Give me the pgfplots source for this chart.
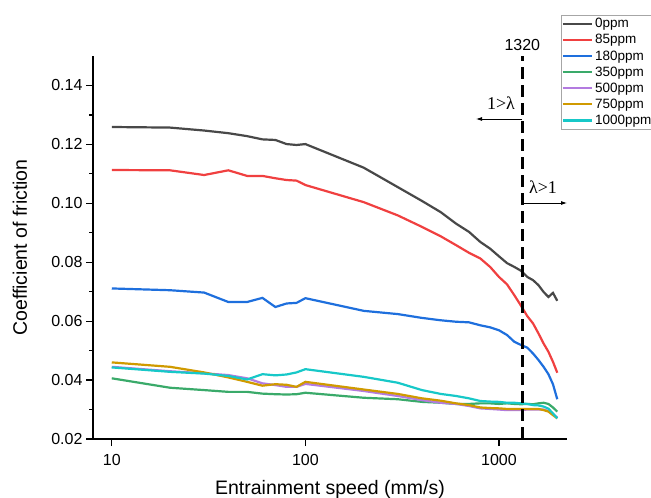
\documentclass[border=0pt]{standalone}
\usepackage{pgfplots}
\pgfplotsset{compat=1.18}
\usetikzlibrary{arrows.meta}
\usepackage{fontspec}
\setmainfont{Liberation Sans}
\newfontfamily\timesfont{Liberation Serif}
\definecolor{c0}{HTML}{484848}
\definecolor{c85}{HTML}{F04040}
\definecolor{c180}{HTML}{1E6FDD}
\definecolor{c350}{HTML}{3AAA6A}
\definecolor{c500}{HTML}{B37BE0}
\definecolor{c750}{HTML}{D09A00}
\definecolor{c1000}{HTML}{17C8C8}
\begin{document}
\begin{tikzpicture}
\begin{axis}[
  at={(0,0)}, anchor=south west,
  scale only axis, width=474bp, height=383bp,
  xmode=log, log basis x=10,
  xmin=8, xmax=2245, ymin=0.02, ymax=0.15,
  xtick={10,100,1000}, xticklabels={10,100,1000},
  ytick={0.02,0.04,0.06,0.08,0.10,0.12,0.14},
  minor y tick num=1,
  axis lines*=left,
  axis line style={line width=1.6bp,-},
  tick style={line width=1.3bp,black},
  tick align=outside,
  major tick length=7bp, minor tick length=4bp,
  yticklabel style={/pgf/number format/.cd, fixed, fixed zerofill, precision=2, assume math mode=true},
  ticklabel style={font=\fontsize{16bp}{18bp}\selectfont},
  xticklabel style={/pgf/number format/assume math mode=true, yshift=-5bp},
  log ticks with fixed point,
  xlabel={Entrainment speed (mm/s)},
  ylabel={Coefficient of friction},
  label style={font=\fontsize{19.5bp}{22bp}\selectfont},
  xlabel style={at={(axis description cs:0.5,-0.1305)}, anchor=center},
  ylabel style={at={(axis description cs:-0.154,0.5)}, anchor=center},
  clip=false,
  legend cell align=left,
  legend style={at={(axis description cs:0.9873,1.1070)}, anchor=north west, draw=gray!70, line width=0.8bp,
    font=\fontsize{13.5bp}{15bp}\selectfont, inner xsep=0.5bp, inner ysep=1bp, row sep=1.2bp},
  legend image code/.code={\draw[#1,line width=2.2bp] (0bp,0bp) -- (29bp,0bp);},
  every axis plot/.append style={line width=2.2bp},
]
\addplot[c0] coordinates {(10,0.1259)(20,0.1257)(30,0.1247)(40,0.1238)(50,0.1228)(60,0.1217)(70,0.1215)(80,0.1201)(90,0.1198)(100,0.1201)(200,0.1121)(300,0.1055)(400,0.1008)(500,0.0970)(600,0.0931)(700,0.0903)(800,0.0869)(900,0.0846)(1000,0.0820)(1100,0.0797)(1200,0.0784)(1300,0.0771)(1400,0.0750)(1500,0.0739)(1600,0.0722)(1700,0.0699)(1800,0.0682)(1900,0.0696)(2000,0.0669)};
\addlegendentry{0ppm}
\addplot[c85] coordinates {(10,0.1113)(20,0.1112)(30,0.1096)(40,0.1112)(50,0.1093)(60,0.1093)(70,0.1085)(80,0.1079)(90,0.1077)(100,0.1062)(200,0.1004)(300,0.0959)(400,0.0920)(500,0.0888)(600,0.0858)(700,0.0832)(800,0.0813)(900,0.0784)(1000,0.0750)(1100,0.0725)(1200,0.0688)(1300,0.0652)(1400,0.0617)(1500,0.0592)(1600,0.0558)(1700,0.0524)(1800,0.0496)(1900,0.0462)(2000,0.0425)};
\addlegendentry{85ppm}
\addplot[c180] coordinates {(10,0.0711)(20,0.0705)(30,0.0697)(40,0.0665)(50,0.0665)(60,0.0679)(70,0.0648)(80,0.0660)(90,0.0662)(100,0.0678)(200,0.0635)(300,0.0624)(400,0.0611)(500,0.0603)(600,0.0598)(700,0.0596)(800,0.0586)(900,0.0579)(1000,0.0569)(1100,0.0553)(1200,0.0530)(1300,0.0519)(1400,0.0510)(1500,0.0490)(1600,0.0468)(1700,0.0445)(1800,0.0420)(1900,0.0386)(2000,0.0335)};
\addlegendentry{180ppm}
\addplot[c350] coordinates {(10,0.0406)(20,0.0374)(30,0.0366)(40,0.0360)(50,0.0360)(60,0.0354)(70,0.0352)(80,0.0351)(90,0.0352)(100,0.0357)(200,0.0340)(300,0.0335)(400,0.0326)(500,0.0323)(600,0.0319)(700,0.0319)(800,0.0321)(900,0.0321)(1000,0.0319)(1100,0.0321)(1200,0.0319)(1300,0.0318)(1400,0.0319)(1500,0.0318)(1600,0.0321)(1700,0.0323)(1800,0.0319)(1900,0.0307)(2000,0.0293)};
\addlegendentry{350ppm}
\addplot[c500] coordinates {(10,0.0445)(20,0.0430)(30,0.0423)(40,0.0417)(50,0.0406)(60,0.0389)(70,0.0383)(80,0.0377)(90,0.0377)(100,0.0387)(200,0.0363)(300,0.0346)(400,0.0332)(500,0.0323)(600,0.0319)(700,0.0312)(800,0.0304)(900,0.0302)(1000,0.0300)(1100,0.0298)(1200,0.0298)(1300,0.0298)(1400,0.0300)(1500,0.0300)(1600,0.0300)(1700,0.0300)(1800,0.0295)(1900,0.0284)(2000,0.0273)};
\addlegendentry{500ppm}
\addplot[c750] coordinates {(10,0.0460)(20,0.0445)(30,0.0426)(40,0.0409)(50,0.0394)(60,0.0381)(70,0.0386)(80,0.0384)(90,0.0377)(100,0.0394)(200,0.0368)(300,0.0353)(400,0.0338)(500,0.0330)(600,0.0321)(700,0.0315)(800,0.0307)(900,0.0305)(1000,0.0304)(1100,0.0302)(1200,0.0302)(1300,0.0302)(1400,0.0302)(1500,0.0302)(1600,0.0302)(1700,0.0298)(1800,0.0293)(1900,0.0281)(2000,0.0270)};
\addlegendentry{750ppm}
\addplot[c1000] coordinates {(10,0.0443)(20,0.0428)(30,0.0422)(40,0.0414)(50,0.0402)(60,0.0420)(70,0.0416)(80,0.0419)(90,0.0426)(100,0.0437)(200,0.0411)(300,0.0391)(400,0.0366)(500,0.0353)(600,0.0346)(700,0.0338)(800,0.0329)(900,0.0327)(1000,0.0326)(1100,0.0323)(1200,0.0323)(1300,0.0321)(1400,0.0319)(1500,0.0315)(1600,0.0314)(1700,0.0310)(1800,0.0303)(1900,0.0287)(2000,0.0270)};
\addlegendentry{1000ppm}
\draw[black, line width=3bp, dash pattern=on 12bp off 6bp] (axis cs:1320,0.02) -- (axis cs:1320,0.15);
\node[font=\fontsize{16bp}{18bp}\selectfont] at (axis cs:1320,0.1537) {1320};
\end{axis}
\node[font=\timesfont\fontsize{18bp}{20bp}\selectfont] at (408bp,336bp) {1>λ};
\draw[-{Latex[length=6bp,width=4bp]}, line width=0.8bp] (429bp,320bp) -- (383bp,320bp);
\node[font=\timesfont\fontsize{18bp}{20bp}\selectfont] at (450bp,252bp) {λ>1};
\draw[-{Latex[length=6bp,width=4bp]}, line width=0.8bp] (429bp,236bp) -- (474bp,236bp);
\pgfresetboundingbox
\path[use as bounding box] (-93bp,-59bp) rectangle (558bp,439bp);
\end{tikzpicture}
\end{document}
